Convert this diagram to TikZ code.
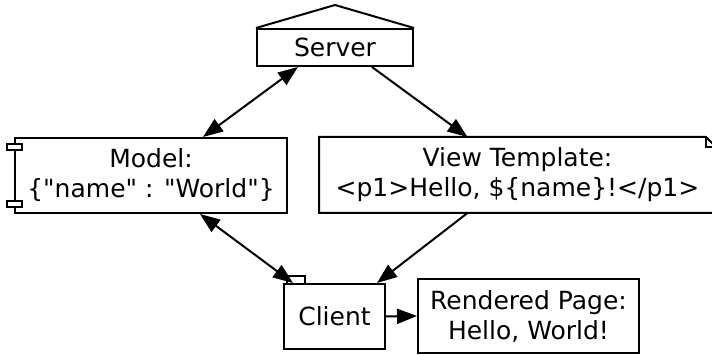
\documentclass[tikz,border=0pt]{standalone}
\usepackage{fontspec}
\setmainfont{DejaVu Sans}[Ligatures=TeXOff]
\usetikzlibrary{positioning,calc,arrows.meta}

\begin{document}
\begin{tikzpicture}[x=1pt,y=-1pt,
    box/.style={line width=2pt, inner sep=0pt, align=center,
                font=\fontsize{25}{30}\selectfont},
    edge/.style={line width=2pt, line join=miter},
    link/.style={edge, -{Triangle[length=20pt,width=15pt]}},
    twoway/.style={edge, {Triangle[length=20pt,width=15pt]}-{Triangle[length=20pt,width=15pt]}}]
  \clip (0,0) rectangle (712,355);

  \node[box, draw, minimum width=156pt, minimum height=37pt] (server) at (335,47.5) {Server};
  \draw[edge] (server.north west) -- ($(server.north)+(0,-23)$) -- (server.north east);

  \node[box, draw, minimum width=272pt, minimum height=75pt] (model) at (151,175.5)
    {Model:\\\{"name" : "World"\}};
  \draw[edge, fill=white] ($(model.north west)+(-7,7)$) rectangle ($(model.north west)+(8,13)$);
  \draw[edge, fill=white] ($(model.south west)+(-7,-13)$) rectangle ($(model.south west)+(8,-7)$);

  \node[box, minimum width=395pt, minimum height=74pt] (view) at (517.5,175)
    {View Template:\\<p1>Hello, \$\{name\}!</p1>};
  \draw[edge] (view.south west) -- (view.north west) -- ($(view.north east)+(-10,0)$)
    -- ($(view.north east)+(0,10)$) -- (view.south east) -- cycle;
  \draw[edge] ($(view.north east)+(-10,0)$) -- ($(view.north east)+(-10,10)$)
    -- ($(view.north east)+(0,10)$);

  \node[box, draw, minimum width=101pt, minimum height=65pt] (client) at (334.5,316.5) {Client};
  \draw[edge] ($(client.north west)+(4,0)$) -- ($(client.north west)+(4,-7)$)
    -- ($(client.north west)+(22,-7)$) -- ($(client.north west)+(22,0)$);

  \node[box, draw, minimum width=221pt, minimum height=74pt] (page) at (528.5,316)
    {Rendered Page:\\Hello, World!};

  \draw[twoway] ($(server.south)+(-37,0)$) -- ($(model.north)+(52,0)$);
  \draw[link] ($(server.south)+(37,0)$) -- ($(view.north)+(-50,0)$);
  \draw[twoway] ($(model.south)+(49,0)$) -- ($(client.north)+(-41.5,0)$);
  \draw[link] ($(view.south)+(-50,0)$) -- ($(client.north)+(42.5,0)$);
  \draw[link] (client.east) -- (page.west);
\end{tikzpicture}
\end{document}
